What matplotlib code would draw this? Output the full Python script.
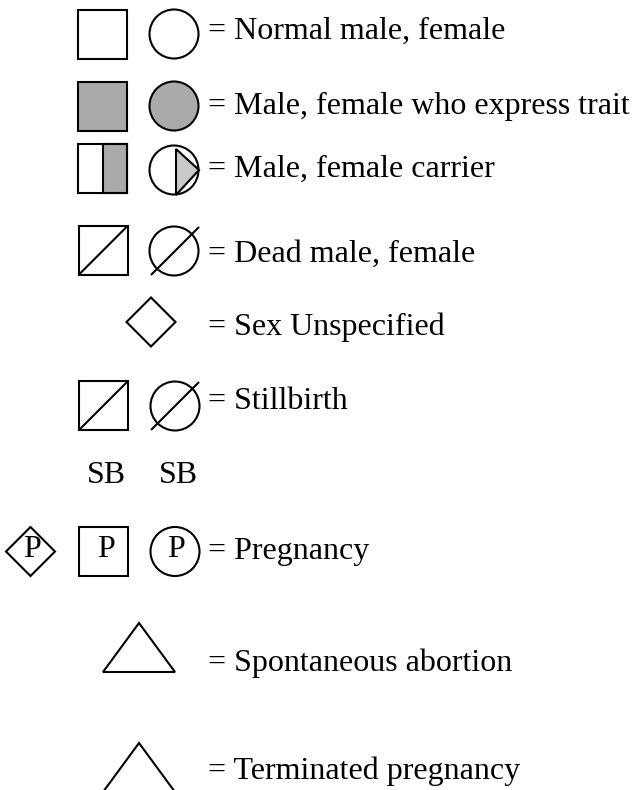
import matplotlib
matplotlib.use("Agg")
import matplotlib.pyplot as plt
from matplotlib.patches import Rectangle, Circle, Polygon

# legend entries: label text, baseline of the label (px from top)
labels = ["= Normal male, female",
          "= Male, female who express trait",
          "= Male, female carrier",
          "= Dead male, female",
          "= Sex Unspecified",
          "= Stillbirth",
          "= Pregnancy",
          "= Spontaneous abortion",
          "= Terminated pregnancy"]
label_y = [39, 114, 177, 262, 335, 409, 559, 671, 779]
sb_labels = ["SB", "SB"]
preg_mark = "P"

affected = "#aaaaaa"
carrier = "#c9c9c9"
lw = 1.5
font = "Liberation Serif"
fs = 23

fig = plt.figure(figsize=(6.34, 7.90), dpi=100)
ax = fig.add_axes([0, 0, 1, 1])
ax.set_xlim(0, 634)
ax.set_ylim(790, 0)
ax.axis("off")


def square(x, y, fc="white"):
    ax.add_patch(Rectangle((x, y), 49, 49, fc=fc, ec="black", lw=lw))


def circle(cx, cy, fc="white"):
    ax.add_patch(Circle((cx, cy), 24.5, fc=fc, ec="black", lw=lw))


def diamond(cx, cy, h=24.5):
    ax.add_patch(Polygon([(cx, cy - h), (cx + h, cy), (cx, cy + h), (cx - h, cy)],
                         closed=True, fc="white", ec="black", lw=lw))


def slash(x0, y0, x1, y1):
    ax.plot([x0, x1], [y0, y1], color="black", lw=lw, solid_capstyle="butt")


# normal
square(78, 10)
circle(174, 34)

# affected
square(78, 82, affected)
circle(174, 106, affected)

# carrier
square(78, 144)
ax.add_patch(Rectangle((102.5, 144), 24.5, 49, fc=affected, ec="black", lw=lw))
circle(174, 170)
ax.add_patch(Polygon([(176, 149), (199, 170), (176, 195)], closed=True,
                     fc=carrier, ec="black", lw=lw))

# dead
square(78.5, 226)
slash(78.5, 275, 127.5, 226)
circle(174, 251)
slash(151, 275, 199, 227)

# sex unspecified
diamond(151, 322)

# stillbirth
square(79, 381)
slash(79, 430, 128, 381)
circle(175, 406)
slash(151, 430, 199, 382)
for x, s in zip([106, 178], sb_labels):
    ax.text(x, 483, s, ha="center", va="baseline", family=font, fontsize=fs)

# pregnancy
diamond(30.5, 551.5)
square(79, 527)
circle(175, 551.5)
for x in [32, 106, 175.5]:
    ax.text(x, 557, preg_mark, ha="center", va="baseline", family=font, fontsize=fs)

# abortion / termination triangles
for apex in [623, 743]:
    ax.add_patch(Polygon([(139, apex), (175, apex + 49), (103, apex + 49)],
                         closed=True, fc="white", ec="black", lw=lw))

for s, y in zip(labels, label_y):
    ax.text(208, y, s, ha="left", va="baseline", family=font, fontsize=fs)

fig.savefig("out.png", dpi=100, facecolor="white")
